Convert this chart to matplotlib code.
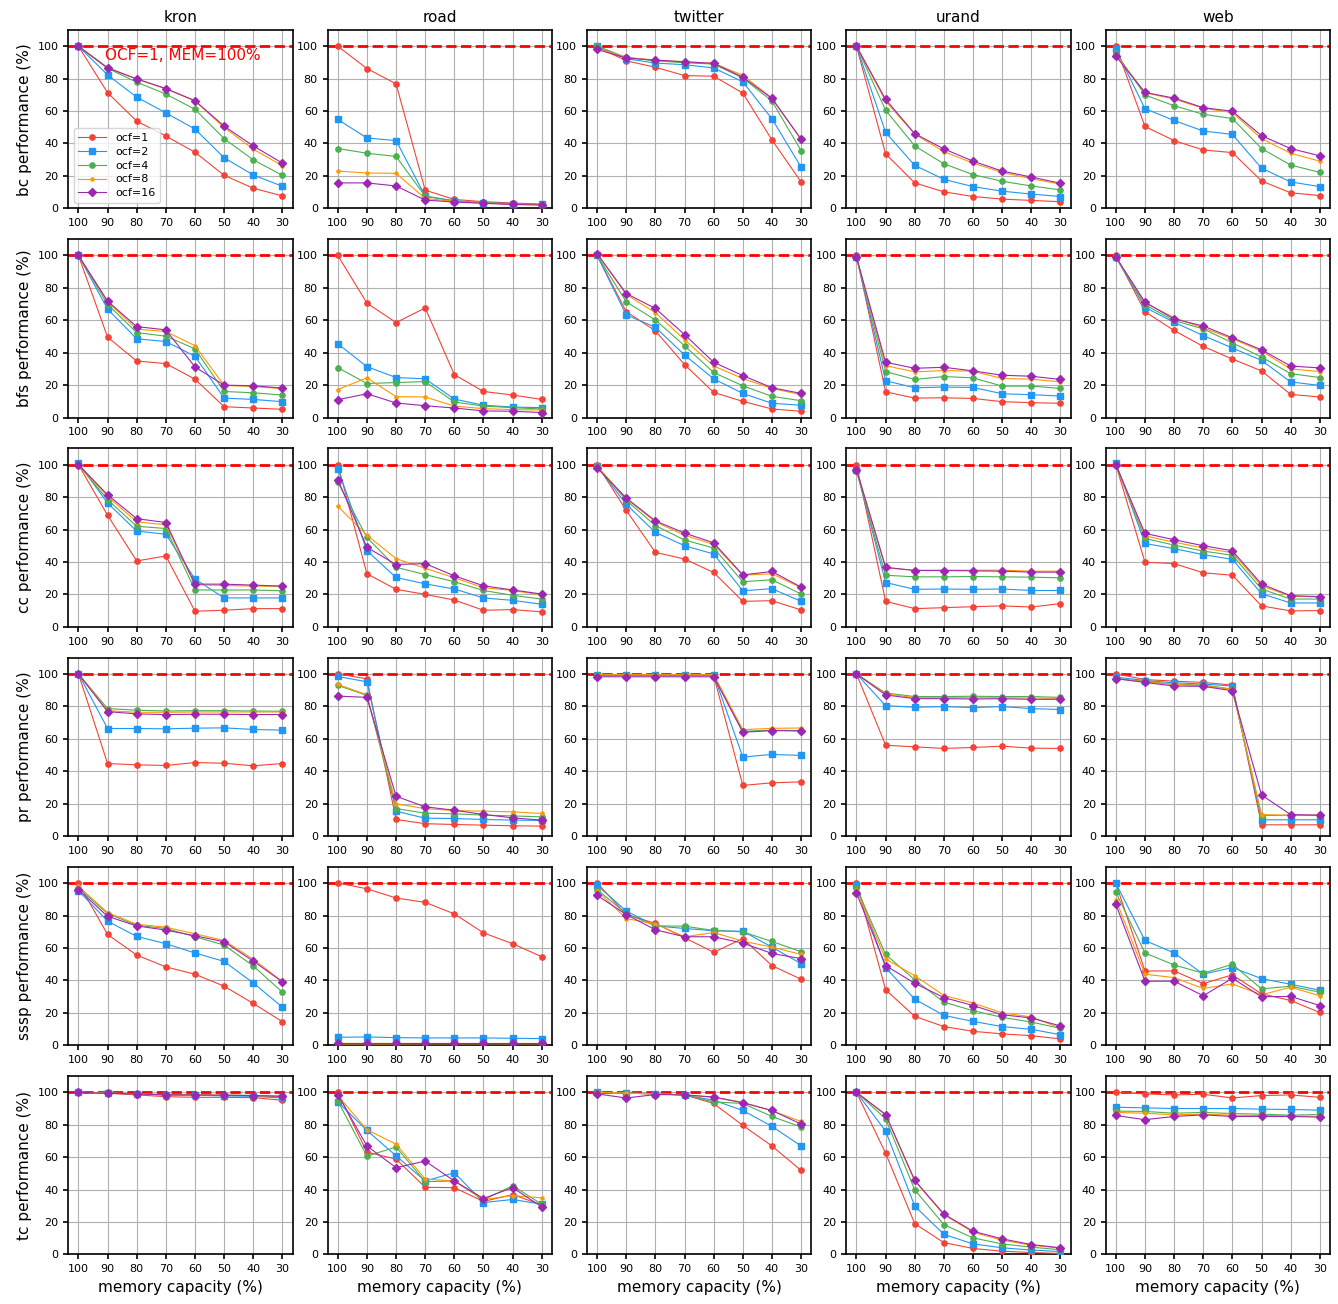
import matplotlib
matplotlib.use('Agg')
import matplotlib.pyplot as plt

graphs = ['kron', 'road', 'twitter', 'urand', 'web']
kernels = ['bc', 'bfs', 'cc', 'pr', 'sssp', 'tc']
mem = [100, 90, 80, 70, 60, 50, 40, 30]
ocf_labels = ['ocf=1', 'ocf=2', 'ocf=4', 'ocf=8', 'ocf=16']

# each panel: one row per ocf (1, 2, 4, 8, 16), one value per memory capacity
bc_kron = [[100, 71.3, 53.8, 44.6, 34.6, 20.4, 12.4, 7.7],
           [100, 82.3, 68.6, 58.9, 48.9, 31.2, 20.6, 13.6],
           [100, 86.4, 77.8, 70.5, 61.1, 43.0, 29.9, 20.4],
           [100, 86.8, 79.8, 73.7, 66.2, 49.9, 36.5, 26.3],
           [100, 86.6, 79.8, 73.9, 66.4, 50.7, 38.5, 27.9]]
bc_road = [[100, 86.2, 76.8, 11.2, 5.5, 4.1, 3.3, 2.6],
           [54.8, 43.4, 41.8, 7.5, 4.7, 3.5, 2.9, 2.4],
           [36.9, 34.0, 32.0, 7.5, 4.5, 3.5, 2.6, 2.4],
           [23.0, 21.8, 21.6, 6.1, 4.3, 3.3, 2.6, 2.2],
           [15.7, 15.7, 13.8, 5.1, 3.9, 3.1, 2.4, 2.0]]
bc_twitter = [[99.6, 91.0, 87.0, 81.9, 81.5, 71.1, 42.2, 16.3],
              [100, 92.3, 89.6, 88.6, 86.6, 78.0, 55.2, 25.5],
              [100, 93.1, 91.0, 89.8, 89.0, 80.4, 66.2, 35.6],
              [99, 93.1, 91.4, 90.4, 89.4, 82.1, 68.0, 42.6],
              [98, 92.7, 91.4, 90.4, 89.4, 80.9, 67.8, 42.6]]
bc_urand = [[100, 33.6, 15.7, 10.2, 7.3, 5.7, 4.9, 4.1],
            [100, 46.8, 26.5, 17.9, 13.4, 10.6, 8.8, 7.3],
            [100, 60.5, 38.5, 27.5, 20.8, 16.7, 13.8, 11.4],
            [100, 66.0, 45.8, 35.0, 27.9, 22.2, 18.3, 14.9],
            [100, 67.2, 46.0, 36.7, 29.1, 23.0, 19.3, 15.5]]
bc_web = [[100, 50.5, 41.8, 36.0, 34.4, 16.9, 9.6, 7.9],
          [98, 61.5, 54.2, 47.7, 45.6, 24.8, 16.3, 13.4],
          [96, 69.9, 63.3, 58.0, 55.4, 36.9, 26.7, 22.2],
          [95, 71.3, 67.4, 61.7, 59.1, 43.0, 34.0, 29.1],
          [93.9, 71.5, 68.0, 62.1, 59.9, 44.8, 36.9, 32.4]]

bfs_kron = [[100, 49.6, 34.9, 33.3, 23.7, 6.7, 5.9, 5.1],
            [100, 66.9, 48.6, 46.9, 37.8, 12.0, 11.2, 9.8],
            [100, 69.8, 52.4, 50.2, 42.4, 16.1, 15.3, 13.9],
            [100, 71.4, 54.5, 53.1, 44.3, 19.8, 19.2, 17.8],
            [100, 71.8, 56.1, 54.1, 31.2, 20.0, 19.6, 18.2]]
bfs_road = [[100, 70.6, 58.6, 67.6, 26.5, 16.1, 13.9, 11.2],
            [45.5, 31.4, 24.7, 23.9, 11.4, 7.6, 6.5, 6.1],
            [30.8, 21.0, 21.6, 22.2, 9.6, 7.1, 6.1, 5.3],
            [17.3, 24.5, 12.9, 12.7, 7.1, 5.5, 4.9, 4.7],
            [11.0, 14.7, 9.0, 7.3, 5.9, 4.1, 3.9, 3.1]]
bfs_twitter = [[100, 65.3, 53.5, 32.7, 15.5, 10.0, 5.3, 3.9],
               [100, 63.3, 55.7, 38.6, 23.9, 14.9, 8.8, 7.6],
               [100, 71.4, 60.2, 44.3, 27.8, 19.6, 13.1, 10.4],
               [101, 75.9, 64.7, 48.0, 31.8, 24.1, 18.0, 14.1],
               [101, 76.5, 67.3, 51.2, 34.1, 25.9, 18.4, 14.9]]
bfs_urand = [[100, 15.9, 12.0, 12.2, 11.8, 9.8, 9.2, 8.8],
             [99, 22.7, 18.4, 18.8, 18.6, 14.7, 14.1, 13.3],
             [99, 28.4, 23.5, 25.3, 24.5, 19.4, 19.4, 18.0],
             [99, 32.0, 28.2, 29.0, 28.6, 24.1, 23.7, 22.0],
             [99, 34.1, 30.4, 31.0, 28.8, 26.1, 25.5, 23.5]]
bfs_web = [[100, 65.3, 53.7, 43.9, 36.1, 28.8, 14.3, 12.7],
           [99, 68.0, 58.8, 50.6, 42.9, 35.3, 22.0, 19.8],
           [99, 69.6, 59.8, 54.7, 46.1, 37.3, 27.1, 24.7],
           [99, 70.8, 61.6, 55.3, 48.6, 41.0, 30.0, 28.4],
           [99, 71.2, 60.8, 56.5, 49.2, 41.8, 31.8, 30.6]]

cc_kron = [[100, 68.8, 40.6, 43.7, 9.6, 10.2, 11.2, 11.2],
           [101, 76.3, 59.0, 57.1, 29.4, 17.8, 17.8, 17.8],
           [100, 78.4, 62.0, 60.6, 22.7, 22.7, 22.7, 22.2],
           [100, 80.4, 64.7, 62.9, 25.9, 25.5, 25.1, 24.9],
           [100, 81.4, 66.7, 64.3, 26.3, 26.3, 25.7, 25.1]]
cc_road = [[100, 32.7, 23.1, 20.0, 16.5, 10.2, 10.6, 9.2],
           [97.6, 46.9, 30.4, 26.5, 23.3, 17.8, 16.3, 13.9],
           [89.2, 55.1, 36.7, 32.2, 27.8, 22.4, 19.4, 17.1],
           [74.3, 56.5, 42.0, 36.1, 30.2, 24.1, 22.4, 19.6],
           [90.8, 49.0, 38.4, 39.0, 31.4, 25.3, 22.7, 20.2]]
cc_twitter = [[100, 71.8, 45.9, 41.8, 33.5, 15.7, 16.1, 10.4],
              [99, 75.5, 58.2, 50.0, 44.9, 22.2, 23.5, 15.7],
              [99, 78.0, 62.4, 53.5, 48.6, 27.8, 29.0, 20.2],
              [99, 79.0, 64.7, 56.5, 50.8, 31.8, 32.7, 24.1],
              [98, 79.4, 65.3, 57.8, 51.8, 32.0, 34.1, 24.5]]
cc_urand = [[100, 15.7, 11.2, 11.8, 12.4, 12.9, 12.2, 14.3],
            [97, 27.3, 23.1, 23.3, 23.1, 23.3, 22.4, 22.4],
            [96, 31.8, 30.8, 30.8, 31.0, 30.8, 30.6, 30.2],
            [97, 36.3, 34.9, 34.9, 34.9, 34.9, 34.3, 34.3],
            [97, 36.7, 34.7, 34.7, 34.5, 34.3, 33.7, 33.7]]
cc_web = [[100, 39.8, 39.0, 33.3, 31.8, 12.9, 9.8, 10.0],
          [101, 51.4, 48.2, 44.5, 41.6, 20.4, 14.7, 14.7],
          [100, 54.5, 50.4, 46.7, 44.1, 23.3, 17.1, 17.1],
          [100, 56.1, 52.2, 48.6, 45.7, 25.3, 18.8, 18.4],
          [100, 57.6, 53.7, 50.0, 46.9, 26.3, 19.2, 18.6]]

pr_kron = [[100, 44.7, 43.9, 43.5, 45.3, 44.9, 43.3, 44.7],
           [100, 66.3, 66.3, 66.1, 66.5, 66.7, 65.7, 65.3],
           [100, 78.6, 77.6, 77.1, 77.3, 77.3, 77.1, 76.9],
           [100, 77.3, 76.3, 76.3, 76.5, 76.5, 76.5, 76.5],
           [100, 76.7, 75.3, 74.9, 75.1, 75.1, 74.9, 74.9]]
pr_road = [[100, 96.9, 10.2, 7.6, 7.1, 6.7, 6.3, 6.1],
           [98.4, 95.1, 15.3, 11.0, 10.8, 10.2, 9.8, 9.6],
           [92.9, 86.7, 16.9, 14.1, 13.7, 12.9, 12.4, 11.8],
           [93.5, 87.1, 19.8, 16.9, 15.7, 15.3, 14.9, 13.9],
           [86.3, 85.5, 24.5, 18.0, 15.9, 13.3, 11.2, 9.8]]
pr_twitter = [[99, 99, 99, 99, 99, 31.2, 32.8, 33.4],
              [99.5, 99.5, 99.5, 99.5, 99.5, 48.7, 50.3, 49.7],
              [99.5, 99.5, 99.5, 99.5, 99.5, 64.6, 65.2, 65.0],
              [99.5, 99.5, 99.5, 99.5, 99.5, 65.6, 66.4, 66.6],
              [98.2, 98.2, 98.2, 98.2, 98.2, 64.0, 65.0, 64.8]]
pr_urand = [[100, 56.0, 55.0, 54.0, 54.6, 55.4, 54.2, 54.0],
            [100, 80.4, 79.4, 79.8, 79.2, 79.8, 78.6, 78.0],
            [100, 88.2, 86.0, 86.0, 86.2, 86.0, 86.0, 85.5],
            [100, 87.8, 85.3, 85.3, 85.3, 85.3, 85.1, 84.9],
            [100, 87.0, 84.7, 84.7, 84.5, 84.7, 84.3, 84.3]]
pr_web = [[100, 96.5, 95.5, 94.7, 93.1, 6.9, 6.9, 6.9],
          [98, 95.9, 94.5, 93.7, 92.5, 10.0, 10.0, 10.0],
          [97, 95.5, 93.5, 93.1, 90.6, 12.6, 12.8, 12.8],
          [97, 95.1, 93.5, 92.7, 90.4, 13.2, 12.8, 12.8],
          [97.1, 94.7, 92.5, 92.3, 89.6, 25.3, 13.2, 12.8]]

sssp_kron = [[100, 68.3, 55.6, 48.3, 43.8, 36.4, 25.8, 14.5],
             [95.3, 76.5, 67.1, 62.6, 56.9, 51.7, 38.4, 23.5],
             [97, 81.2, 74.0, 72.0, 66.9, 61.8, 48.9, 32.7],
             [98, 81.8, 74.6, 72.8, 68.7, 64.6, 53.0, 39.3],
             [96, 79.5, 73.6, 71.0, 67.5, 63.8, 51.9, 39.1]]
sssp_road = [[100, 96.5, 90.8, 88.1, 81.0, 69.3, 62.6, 54.6],
             [4.9, 5.1, 4.7, 4.5, 4.5, 4.5, 4.3, 4.1],
             [1.4, 1.4, 1.4, 1.4, 1.4, 1.4, 1.4, 1.4],
             [0.8, 0.8, 0.8, 0.9, 0.9, 0.9, 0.9, 0.9],
             [1.6, 1.6, 1.6, 1.6, 1.6, 1.6, 1.6, 1.6]]
sssp_twitter = [[100, 80.6, 75.1, 66.3, 57.3, 65.8, 49.1, 40.7],
                [98.6, 82.8, 73.6, 72.0, 70.6, 70.3, 60.5, 50.3],
                [96, 81.2, 73.6, 73.4, 70.8, 69.9, 64.0, 57.7],
                [95.3, 78.1, 74.8, 66.9, 69.5, 64.2, 60.5, 56.0],
                [92.4, 80.6, 71.2, 66.9, 66.9, 63.0, 56.6, 53.4]]
sssp_urand = [[100, 34.2, 17.8, 11.5, 8.6, 7.0, 5.9, 3.9],
              [99, 47.9, 28.4, 18.4, 14.7, 11.5, 9.8, 6.5],
              [97, 56.0, 40.3, 26.6, 21.3, 17.2, 14.3, 10.4],
              [96, 53.2, 42.9, 30.7, 26.0, 20.0, 17.4, 10.6],
              [93.9, 49.1, 38.2, 29.4, 24.5, 18.8, 16.8, 11.9]]
sssp_web = [[100, 45.8, 45.8, 38.0, 43.4, 31.7, 27.6, 20.2],
            [100, 64.6, 56.9, 43.8, 47.9, 41.1, 37.6, 33.9],
            [94.5, 56.9, 49.5, 44.4, 49.9, 34.8, 36.4, 32.7],
            [89.8, 43.8, 41.7, 35.0, 37.8, 31.1, 35.8, 30.5],
            [86.9, 39.5, 39.5, 30.5, 41.3, 29.9, 30.1, 24.5]]

tc_kron = [[100, 99.5, 98.4, 97.3, 96.9, 96.9, 96.7, 95.1],
           [100, 99.5, 99.0, 98.4, 98.2, 97.8, 97.5, 96.5],
           [100, 99.5, 99.0, 98.5, 98.4, 98.2, 98.0, 97.5],
           [100, 99.5, 99.0, 98.5, 98.4, 98.2, 98.0, 97.5],
           [100, 99.3, 99.0, 98.4, 98.4, 98.2, 98.0, 97.5]]
tc_road = [[100, 63.1, 58.8, 41.4, 41.2, 32.7, 36.9, 30.6],
           [94.1, 76.5, 60.8, 45.3, 50.4, 32.0, 33.9, 31.0],
           [94.7, 60.6, 66.3, 44.9, 45.3, 33.7, 42.4, 31.0],
           [98.0, 76.9, 68.0, 46.5, 45.3, 33.9, 36.3, 34.9],
           [98.6, 66.9, 53.5, 57.6, 45.3, 34.5, 41.2, 29.4]]
tc_twitter = [[100, 99.5, 99.0, 98.4, 93.1, 79.6, 66.9, 51.8],
              [100, 99.5, 99.0, 98.4, 95.1, 88.8, 79.0, 66.9],
              [100, 99.5, 99.0, 98.4, 94.1, 93.1, 85.1, 78.6],
              [100, 99.5, 99.0, 98.4, 96.9, 93.9, 88.6, 82.0],
              [99, 96.5, 98.6, 98.4, 97.1, 93.5, 88.8, 80.4]]
tc_urand = [[100, 62.4, 19.0, 7.3, 3.7, 2.0, 1.2, 0.6],
            [100, 76.1, 29.8, 12.4, 6.5, 4.1, 2.7, 1.8],
            [100, 83.7, 39.8, 18.4, 10.2, 6.5, 4.5, 2.9],
            [100, 86.1, 45.3, 24.5, 13.7, 8.8, 5.7, 3.9],
            [100, 86.3, 45.7, 24.9, 14.3, 9.6, 6.1, 4.1]]
tc_web = [[100, 99.0, 98.4, 98.8, 96.5, 98.0, 98.4, 96.9],
          [90.8, 90.4, 90.0, 90.0, 90.0, 89.6, 89.4, 89.0],
          [88.4, 88.2, 87.1, 87.6, 86.9, 86.5, 85.9, 86.3],
          [87.6, 87.1, 86.1, 86.5, 85.9, 85.7, 85.5, 85.1],
          [85.7, 83.1, 85.1, 86.1, 85.1, 85.1, 85.1, 84.7]]

panels = {
    'bc': [bc_kron, bc_road, bc_twitter, bc_urand, bc_web],
    'bfs': [bfs_kron, bfs_road, bfs_twitter, bfs_urand, bfs_web],
    'cc': [cc_kron, cc_road, cc_twitter, cc_urand, cc_web],
    'pr': [pr_kron, pr_road, pr_twitter, pr_urand, pr_web],
    'sssp': [sssp_kron, sssp_road, sssp_twitter, sssp_urand, sssp_web],
    'tc': [tc_kron, tc_road, tc_twitter, tc_urand, tc_web],
}

colors = ['#f44336', '#2196f3', '#4caf50', '#ff9800', '#9c27b0']
markers = ['o', 's', 'o', '.', 'D']
msizes = [3.8, 3.8, 3.8, 4.5, 3.8]

fig, axes = plt.subplots(nrows=6, ncols=5, figsize=(13.38, 13.04), dpi=100)
fig.subplots_adjust(left=0.051, right=0.994, top=0.977, bottom=0.038,
                    wspace=0.156, hspace=0.173)

for r, kernel in enumerate(kernels):
    for c, graph in enumerate(graphs):
        ax = axes[r][c]
        ax.axhline(100, color='red', linestyle='--', linewidth=2, zorder=1)
        for i, series in enumerate(panels[kernel][c]):
            ax.plot(mem, series, color=colors[i], marker=markers[i],
                    markersize=msizes[i], linewidth=0.8, label=ocf_labels[i],
                    zorder=3)
        ax.set_xlim(103.5, 26.5)
        ax.set_ylim(0, 110)
        ax.set_xticks(mem)
        ax.set_yticks([0, 20, 40, 60, 80, 100])
        ax.tick_params(labelsize=8, width=1.2)
        for sp in ax.spines.values():
            sp.set_linewidth(1.2)
        ax.grid(True, color='#b0b0b0', linewidth=0.8)
        ax.set_axisbelow(True)
        if r == 0:
            ax.set_title(graph, fontsize=11)
        if c == 0:
            ax.set_ylabel('{} performance (%)'.format(kernel), fontsize=11)
        if r == len(kernels) - 1:
            ax.set_xlabel('memory capacity (%)', fontsize=11)

axes[0][0].text(91, 94, 'OCF=1, MEM=100%', color='red', fontsize=11,
                va='center')
axes[0][0].legend(loc='lower left', fontsize=8, handlelength=2.5,
                  labelspacing=0.35)

fig.savefig('out.png')
